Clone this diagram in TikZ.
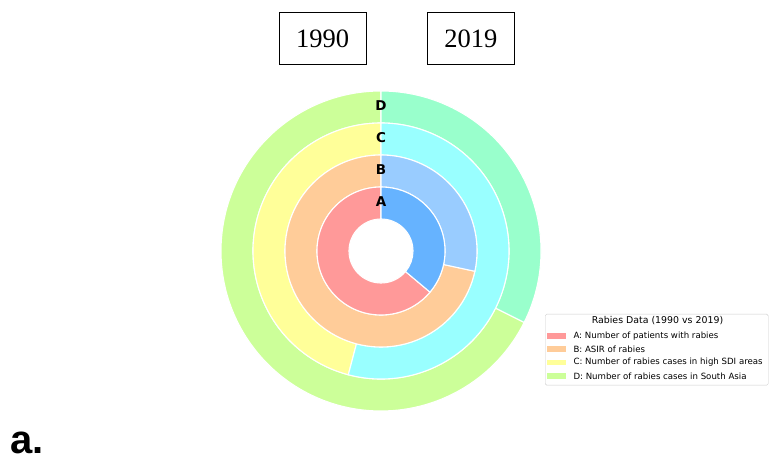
\documentclass[tikz,border=0pt]{standalone}
\usepackage{fontspec}
\setmainfont{Liberation Serif}
\newfontfamily\dejavu{DejaVu Sans}
\newfontfamily\arialfont{Liberation Sans}
\usepackage{tikz}
\definecolor{pinkA}{HTML}{FF9999}
\definecolor{blueA}{HTML}{66B3FF}
\definecolor{peachB}{HTML}{FFCC99}
\definecolor{blueB}{HTML}{99CCFF}
\definecolor{yellowC}{HTML}{FFFF99}
\definecolor{cyanC}{HTML}{99FFFF}
\definecolor{greenD}{HTML}{CCFF99}
\definecolor{mintD}{HTML}{99FFCC}
\tikzstyle{yearbox} = [rectangle, draw=black, line width=0.9pt, minimum height=52.5pt, minimum width=87pt, font=\fontsize{26.5}{28}\selectfont]
\tikzstyle{ringpart} = [draw=white, line width=1.1pt]
\tikzstyle{ringlabel} = [inner sep=0pt, font=\dejavu\bfseries\fontsize{13.5}{14}\selectfont]
\tikzstyle{keypatch} = [rectangle, minimum width=18.7pt, minimum height=5.5pt, inner sep=0pt]
\tikzstyle{keytext} = [anchor=west, inner sep=0pt, font=\dejavu\fontsize{8.6}{10}\selectfont]

\begin{document}
\begin{tikzpicture}[x=1pt, y=1pt]

        \useasboundingbox (0,0) rectangle (769,457);

        \node (Y1) [yearbox] at (322.5,418.4) {1990};
        \node (Y2) [yearbox] at (470.9,418.6) {2019};

        \coordinate (O) at (381,206);

        % outer ring D
        \fill[greenD, ringpart] ([shift={(90:160pt)}]O) arc[start angle=90, end angle=333.5, radius=160pt] -- ([shift={(333.5:128pt)}]O) arc[start angle=333.5, end angle=90, radius=128pt] -- cycle;
        \fill[mintD, ringpart] ([shift={(-26.5:160pt)}]O) arc[start angle=-26.5, end angle=90, radius=160pt] -- ([shift={(90:128pt)}]O) arc[start angle=90, end angle=-26.5, radius=128pt] -- cycle;

        % ring C
        \fill[yellowC, ringpart] ([shift={(90:128pt)}]O) arc[start angle=90, end angle=255.2, radius=128pt] -- ([shift={(255.2:96pt)}]O) arc[start angle=255.2, end angle=90, radius=96pt] -- cycle;
        \fill[cyanC, ringpart] ([shift={(-104.8:128pt)}]O) arc[start angle=-104.8, end angle=90, radius=128pt] -- ([shift={(90:96pt)}]O) arc[start angle=90, end angle=-104.8, radius=96pt] -- cycle;

        % ring B
        \fill[peachB, ringpart] ([shift={(90:96pt)}]O) arc[start angle=90, end angle=347.8, radius=96pt] -- ([shift={(347.8:64pt)}]O) arc[start angle=347.8, end angle=90, radius=64pt] -- cycle;
        \fill[blueB, ringpart] ([shift={(-12.2:96pt)}]O) arc[start angle=-12.2, end angle=90, radius=96pt] -- ([shift={(90:64pt)}]O) arc[start angle=90, end angle=-12.2, radius=64pt] -- cycle;

        % inner ring A
        \fill[pinkA, ringpart] ([shift={(90:64pt)}]O) arc[start angle=90, end angle=320, radius=64pt] -- ([shift={(320:32pt)}]O) arc[start angle=320, end angle=90, radius=32pt] -- cycle;
        \fill[blueA, ringpart] ([shift={(-40:64pt)}]O) arc[start angle=-40, end angle=90, radius=64pt] -- ([shift={(90:32pt)}]O) arc[start angle=90, end angle=-40, radius=32pt] -- cycle;

        \node (LA) [ringlabel] at (381,255.7) {A};
        \node (LB) [ringlabel] at (381,287.7) {B};
        \node (LC) [ringlabel] at (381,319.3) {C};
        \node (LD) [ringlabel] at (381,351) {D};

        % legend
        \node (K) [rectangle, draw=black!20, rounded corners=1.5pt, anchor=north west, minimum width=223pt, minimum height=71pt] at (545,143) {};
        \node (KT) [inner sep=0pt, font=\dejavu\fontsize{9.4}{11}\selectfont] at (657.5,136) {Rabies Data (1990 vs 2019)};
        \node (P1) [keypatch, fill=pinkA] at (556.6,121) {};
        \node (P2) [keypatch, fill=peachB] at (556.6,108) {};
        \node (P3) [keypatch, fill=yellowC] at (556.6,94.7) {};
        \node (P4) [keypatch, fill=greenD] at (556.6,81) {};
        \node (T1) [keytext] at (573.3,121) {A: Number of patients with rabies};
        \node (T2) [keytext] at (573.3,108) {B: ASIR of rabies};
        \node (T3) [keytext] at (573.3,94.7) {C: Number of rabies cases in high SDI areas};
        \node (T4) [keytext] at (573.3,81) {D: Number of rabies cases in South Asia};

        \node (N) [anchor=base west, inner sep=0pt, font=\arialfont\bfseries\fontsize{40}{44}\selectfont] at (10,3.5) {a.};

    \end{tikzpicture}
\end{document}
